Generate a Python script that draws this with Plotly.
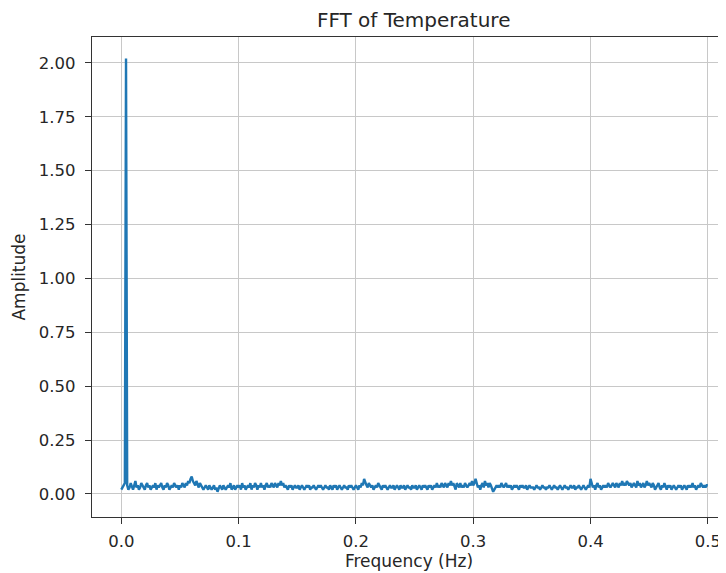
import numpy as np
import plotly.graph_objs as go

# FFT amplitude, one value per 0.001 Hz bin (0 .. 0.5 Hz)
amplitude = [
    0.02, 0.03, 0.04, 0.05, 2.02, 0.04, 0.02, 0.03, 0.05, 0.03,
    0.02, 0.04, 0.06, 0.03, 0.04, 0.02, 0.03, 0.05, 0.04, 0.03,
    0.02, 0.04, 0.05, 0.03, 0.04, 0.02, 0.03, 0.04, 0.03, 0.05,
    0.02, 0.04, 0.03, 0.04, 0.05, 0.03, 0.02, 0.04, 0.03, 0.05,
    0.04, 0.02, 0.03, 0.04, 0.03, 0.05, 0.04, 0.03, 0.04, 0.02,
    # 0.05
    0.04, 0.03, 0.05, 0.04, 0.03, 0.05, 0.04, 0.06, 0.05, 0.07,
    0.08, 0.06, 0.05, 0.04, 0.06, 0.04, 0.03, 0.05, 0.04, 0.03,
    0.02, 0.03, 0.04, 0.03, 0.02, 0.04, 0.03, 0.02, 0.03, 0.04,
    0.02, 0.03, 0.01, 0.03, 0.04, 0.03, 0.02, 0.04, 0.03, 0.02,
    0.03, 0.04, 0.03, 0.05, 0.02, 0.03, 0.04, 0.02, 0.03, 0.04,
    # 0.10
    0.03, 0.04, 0.02, 0.05, 0.03, 0.04, 0.02, 0.03, 0.04, 0.03,
    0.05, 0.02, 0.04, 0.03, 0.05, 0.04, 0.02, 0.04, 0.03, 0.05,
    0.03, 0.04, 0.02, 0.04, 0.05, 0.03, 0.04, 0.03, 0.05, 0.04,
    0.03, 0.05, 0.04, 0.03, 0.05, 0.04, 0.06, 0.04, 0.05, 0.03,
    0.04, 0.03, 0.02, 0.04, 0.03, 0.04, 0.02, 0.03, 0.04, 0.03,
    # 0.15
    0.03, 0.04, 0.02, 0.03, 0.04, 0.03, 0.02, 0.03, 0.04, 0.03,
    0.04, 0.02, 0.03, 0.03, 0.04, 0.03, 0.02, 0.03, 0.04, 0.03,
    0.04, 0.03, 0.02, 0.03, 0.04, 0.03, 0.03, 0.02, 0.04, 0.03,
    0.02, 0.04, 0.03, 0.04, 0.02, 0.03, 0.04, 0.03, 0.02, 0.03,
    0.04, 0.03, 0.03, 0.02, 0.04, 0.03, 0.04, 0.03, 0.02, 0.03,
    # 0.20
    0.04, 0.03, 0.02, 0.04, 0.03, 0.05, 0.04, 0.07, 0.05, 0.04,
    0.03, 0.05, 0.04, 0.03, 0.04, 0.02, 0.03, 0.04, 0.03, 0.05,
    0.04, 0.03, 0.02, 0.04, 0.03, 0.04, 0.03, 0.02, 0.03, 0.04,
    0.03, 0.03, 0.04, 0.02, 0.03, 0.04, 0.03, 0.02, 0.04, 0.03,
    0.03, 0.04, 0.02, 0.03, 0.04, 0.03, 0.03, 0.02, 0.04, 0.03,
    # 0.25
    0.03, 0.04, 0.02, 0.03, 0.04, 0.03, 0.02, 0.04, 0.03, 0.04,
    0.03, 0.02, 0.04, 0.03, 0.04, 0.02, 0.03, 0.04, 0.03, 0.05,
    0.03, 0.04, 0.03, 0.05, 0.04, 0.03, 0.05, 0.04, 0.03, 0.05,
    0.04, 0.06, 0.04, 0.05, 0.03, 0.02, 0.05, 0.04, 0.03, 0.05,
    0.03, 0.04, 0.03, 0.05, 0.04, 0.03, 0.04, 0.05, 0.04, 0.06,
    # 0.30
    0.04, 0.05, 0.07, 0.05, 0.03, 0.04, 0.02, 0.04, 0.05, 0.03,
    0.06, 0.04, 0.05, 0.03, 0.05, 0.04, 0.02, 0.01, 0.02, 0.03,
    0.04, 0.03, 0.04, 0.03, 0.05, 0.04, 0.03, 0.04, 0.05, 0.03,
    0.04, 0.03, 0.04, 0.02, 0.03, 0.04, 0.03, 0.04, 0.03, 0.02,
    0.04, 0.03, 0.04, 0.03, 0.03, 0.04, 0.02, 0.03, 0.04, 0.03,
    # 0.35
    0.03, 0.03, 0.02, 0.03, 0.04, 0.03, 0.03, 0.02, 0.03, 0.04,
    0.03, 0.03, 0.02, 0.03, 0.03, 0.04, 0.03, 0.02, 0.03, 0.04,
    0.03, 0.03, 0.02, 0.03, 0.04, 0.03, 0.02, 0.03, 0.04, 0.03,
    0.03, 0.02, 0.03, 0.04, 0.03, 0.03, 0.04, 0.02, 0.03, 0.03,
    0.04, 0.03, 0.02, 0.03, 0.04, 0.03, 0.02, 0.03, 0.04, 0.03,
    # 0.40
    0.07, 0.05, 0.03, 0.04, 0.02, 0.04, 0.05, 0.03, 0.04, 0.02,
    0.03, 0.04, 0.03, 0.04, 0.03, 0.05, 0.04, 0.03, 0.04, 0.05,
    0.04, 0.03, 0.05, 0.04, 0.03, 0.05, 0.04, 0.06, 0.04, 0.05,
    0.04, 0.06, 0.05, 0.04, 0.05, 0.03, 0.04, 0.05, 0.04, 0.03,
    0.06, 0.04, 0.05, 0.03, 0.04, 0.05, 0.03, 0.04, 0.06, 0.04,
    # 0.45
    0.05, 0.04, 0.03, 0.05, 0.04, 0.02, 0.03, 0.04, 0.05, 0.03,
    0.02, 0.04, 0.03, 0.05, 0.03, 0.02, 0.04, 0.03, 0.04, 0.02,
    0.03, 0.04, 0.03, 0.02, 0.03, 0.04, 0.03, 0.04, 0.02, 0.03,
    0.04, 0.03, 0.02, 0.04, 0.03, 0.04, 0.03, 0.05, 0.03, 0.04,
    0.02, 0.03, 0.04, 0.03, 0.05, 0.04, 0.03, 0.04, 0.03, 0.04,
    # 0.50
    0.04,
]
max_freq = 0.5  # Nyquist, Hz
frequency = np.linspace(0, max_freq, len(amplitude))

x_ticks = [0.0, 0.1, 0.2, 0.3, 0.4, 0.5]
y_ticks = [0.0, 0.25, 0.5, 0.75, 1.0, 1.25, 1.5, 1.75, 2.0]

fig = go.Figure()
fig.add_trace(go.Scatter(
    x=frequency, y=amplitude, mode="lines",
    line=dict(color="#1f77b4", width=2.4),
    showlegend=False,
))

axis_style = dict(
    showline=True, linecolor="#333333", linewidth=1.3,
    ticks="outside", ticklen=6, tickcolor="#333333", tickwidth=1.2,
    showgrid=True, gridcolor="#c8c8c8", gridwidth=1.2,
    zeroline=False,
    tickfont=dict(size=16.5, color="#262626"),
)

# page body has an 8px margin, so the figure is a bit smaller than the window
fig.update_layout(
    width=718, height=565,
    margin=dict(l=84, r=0, t=29, b=56),
    paper_bgcolor="white", plot_bgcolor="white",
    font=dict(family="DejaVu Sans", color="#262626"),
    title=dict(text="FFT of Temperature", x=0.565, xanchor="center",
               y=0.979, yanchor="middle", font=dict(size=20)),
    xaxis=dict(axis_style, range=[-0.025, 0.5155], tickvals=x_ticks,
               tickformat=".1f", mirror=True, ticklabelstandoff=3,
               title=dict(text="Frequency (Hz)", font=dict(size=17), standoff=4)),
    yaxis=dict(axis_style, range=[-0.107, 2.12], tickvals=y_ticks,
               tickformat=".2f", ticklabelstandoff=6,
               title=dict(text="Amplitude", font=dict(size=17), standoff=8)),
)

fig.write_html("out.html")
